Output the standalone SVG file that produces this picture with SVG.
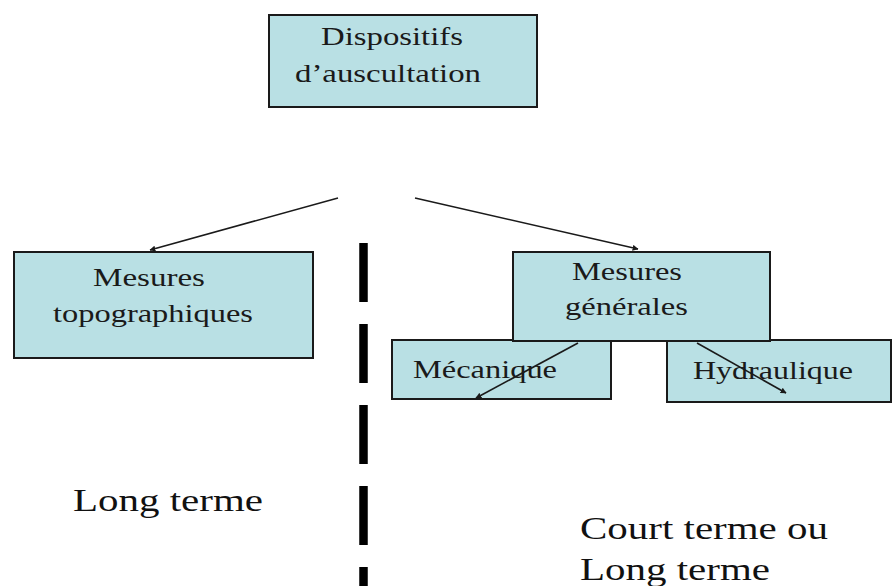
<svg xmlns="http://www.w3.org/2000/svg" width="893" height="586" viewBox="0 0 893 586">
<style>
.box{fill:#b9e0e4;stroke:#1a1a1a;stroke-width:2}
.t{font-family:"Liberation Serif","Times New Roman",serif;font-size:25px;fill:#1a1a1a}
.big{font-family:"Liberation Serif","Times New Roman",serif;font-size:31px;fill:#111}
.conn{stroke:#1a1a1a;stroke-width:1.6;fill:none;marker-end:url(#ah)}
</style>
<defs>
<marker id="ah" viewBox="0 0 10 10" refX="9" refY="5" markerWidth="6" markerHeight="6" orient="auto" markerUnits="userSpaceOnUse">
<path d="M0,0 L10,5 L0,10 z" fill="#1a1a1a"/>
</marker>
</defs>
<rect width="893" height="586" fill="#fff"/>
<g id="node-dispositifs">
<rect class="box" x="269" y="15" width="268" height="92"/>
<text class="t" x="321" y="45" textLength="142" lengthAdjust="spacingAndGlyphs">Dispositifs</text>
<text class="t" x="295" y="82" textLength="186" lengthAdjust="spacingAndGlyphs">d’auscultation</text>
</g>
<g id="node-topo">
<rect class="box" x="14" y="252" width="299" height="106"/>
<text class="t" x="93" y="286" textLength="112" lengthAdjust="spacingAndGlyphs">Mesures</text>
<text class="t" x="53" y="322" textLength="200" lengthAdjust="spacingAndGlyphs">topographiques</text>
</g>
<g id="node-mecanique">
<rect class="box" x="392" y="340" width="219" height="59"/>
<text class="t" x="413" y="378" textLength="144" lengthAdjust="spacingAndGlyphs">Mécanique</text>
</g>
<g id="node-hydraulique">
<rect class="box" x="667" y="340" width="224" height="62"/>
<text class="t" x="693" y="379" textLength="160" lengthAdjust="spacingAndGlyphs">Hydraulique</text>
</g>
<g id="node-generales">
<rect class="box" x="513" y="252" width="257" height="89"/>
<text class="t" x="572" y="280" textLength="110" lengthAdjust="spacingAndGlyphs">Mesures</text>
<text class="t" x="565" y="315" textLength="123" lengthAdjust="spacingAndGlyphs">générales</text>
</g>
<g id="divider">
<line x1="363.5" y1="243" x2="363.5" y2="586" stroke="#000" stroke-width="8.5" stroke-dasharray="59 22"/>
</g>
<g id="connectors">
<line class="conn" x1="338" y1="198" x2="150" y2="250"/>
<line class="conn" x1="415" y1="198" x2="638" y2="249"/>
<line class="conn" x1="578" y1="343" x2="476" y2="398"/>
<line class="conn" x1="697" y1="343" x2="786" y2="393"/>
</g>
<g id="labels">
<text class="big" x="73" y="511" textLength="190" lengthAdjust="spacingAndGlyphs">Long terme</text>
<text class="big" x="580" y="539" textLength="248" lengthAdjust="spacingAndGlyphs">Court terme ou</text>
<text class="big" x="580" y="580" textLength="190" lengthAdjust="spacingAndGlyphs">Long terme</text>
</g>
</svg>
